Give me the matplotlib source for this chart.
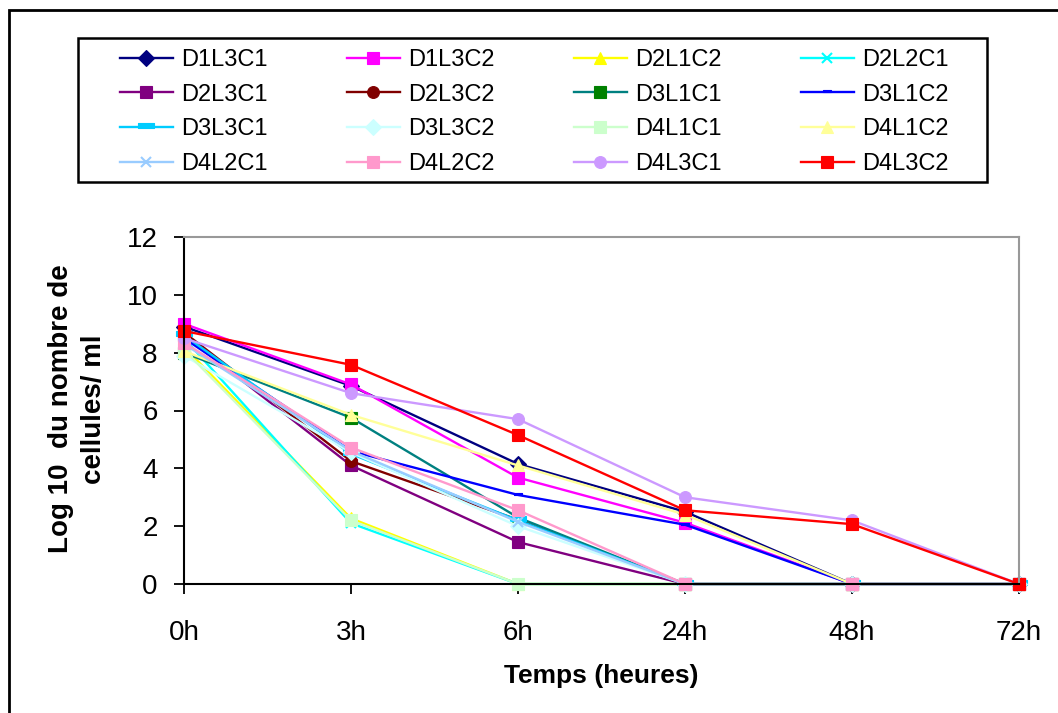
import matplotlib
matplotlib.use("Agg")
import matplotlib.pyplot as plt
from matplotlib.patches import Rectangle
from matplotlib.path import Path

plt.rcParams['font.family'] = ['Liberation Sans', 'DejaVu Sans']

# temps de prelevement
temps = ['0h', '3h', '6h', '24h', '48h', '72h']

# log10 du nombre de cellules/ml pour chaque essai
D1L3C1 = [8.9, 6.85, 4.15, 2.5, 0, 0]
D1L3C2 = [9.0, 6.9, 3.68, 2.12, 0, 0]
D2L1C2 = [8.2, 2.27, 0, 0, 0, 0]
D2L2C1 = [8.5, 2.1, 0, 0, 0, 0]
D2L3C1 = [8.6, 4.1, 1.45, 0, 0, 0]
D2L3C2 = [8.7, 4.25, 2.22, 0, 0, 0]
D3L1C1 = [8.0, 5.75, 2.3, 0, 0, 0]
D3L1C2 = [8.5, 4.6, 3.08, 2.05, 0, 0]
D3L3C1 = [8.6, 4.5, 2.2, 0, 0, 0]
D3L3C2 = [7.9, 4.55, 2.0, 0, 0, 0]
D4L1C1 = [8.1, 2.2, 0, 0, 0, 0]
D4L1C2 = [8.05, 5.85, 4.1, 2.4, 0, 0]
D4L2C1 = [8.3, 4.6, 2.15, 0, 0, 0]
D4L2C2 = [8.35, 4.72, 2.55, 0, 0, 0]
D4L3C1 = [8.5, 6.6, 5.7, 3.0, 2.2, 0]
D4L3C2 = [8.75, 7.58, 5.15, 2.55, 2.07, 0]

noms = ['D1L3C1', 'D1L3C2', 'D2L1C2', 'D2L2C1', 'D2L3C1', 'D2L3C2',
        'D3L1C1', 'D3L1C2', 'D3L3C1', 'D3L3C2', 'D4L1C1', 'D4L1C2',
        'D4L2C1', 'D4L2C2', 'D4L3C1', 'D4L3C2']
series = [D1L3C1, D1L3C2, D2L1C2, D2L2C1, D2L3C1, D2L3C2,
          D3L1C1, D3L1C2, D3L3C1, D3L3C2, D4L1C1, D4L1C2,
          D4L2C1, D4L2C2, D4L3C1, D4L3C2]

# petits tirets comme marqueurs (style excel)
tiret = Path([(-1, -0.1), (1, -0.1), (1, 0.5), (-1, 0.5), (-1, -0.1)],
             [Path.MOVETO, Path.LINETO, Path.LINETO, Path.LINETO, Path.CLOSEPOLY])

# couleur ligne, couleur marqueur, marqueur, taille
styles = [
    ('#000080', '#000080', 'D', 8),
    ('#FF00FF', '#FF00FF', 's', 8),
    ('#FFFF00', '#FFFF00', '^', 9),
    ('#00FFFF', '#00FFFF', 'x', 7),
    ('#800080', '#800080', 's', 8),
    ('#800000', '#800000', 'o', 8.5),
    ('#008080', '#008000', 's', 8),
    ('#0000FF', '#0000FF', tiret, 6),
    ('#00CCFF', '#00CCFF', tiret, 11),
    ('#CCFFFF', '#CCFFFF', 'D', 8),
    ('#CCFFCC', '#CCFFCC', 's', 8),
    ('#FFFF99', '#FFFF99', '^', 9),
    ('#99CCFF', '#99CCFF', 'x', 7),
    ('#FF99CC', '#FF99CC', 's', 8),
    ('#CC99FF', '#CC99FF', 'o', 8.5),
    ('#FF0000', '#FF0000', 's', 8),
]

fig = plt.figure(figsize=(10.58, 7.13), dpi=100)
ax = fig.add_axes([184 / 1058, 1 - 584 / 713, 835 / 1058, 347 / 713])

x = list(range(len(temps)))
lignes = []
for nom, val, (lc, mc, m, ms) in zip(noms, series, styles):
    l, = ax.plot(x, val, color=lc, lw=1.7, marker=m, ms=ms,
                 markerfacecolor=mc, markeredgecolor=mc,
                 markeredgewidth=1.5 if m == 'x' else 0.8,
                 clip_on=False, label=nom)
    lignes.append(l)

ax.set_xlim(0, 5)
ax.set_ylim(0, 12)
ax.set_xticks(x)
ax.set_xticklabels(temps)
ax.set_yticks(range(0, 13, 2))
ax.tick_params(axis='both', labelsize=20, direction='out', length=7, width=1.3)
ax.tick_params(axis='x', pad=19)
ax.tick_params(axis='y', pad=12)
for s in ['left', 'bottom']:
    ax.spines[s].set_color('black')
    ax.spines[s].set_linewidth(1.5)
for s in ['top', 'right']:
    ax.spines[s].set_color('#999999')
    ax.spines[s].set_linewidth(1.5)

fig.text(601 / 1058, 1 - 676 / 713, 'Temps (heures)', fontsize=19,
         fontweight='bold', ha='center', va='center')
fig.text(77 / 1058, 1 - 409 / 713, 'Log 10  du nombre de\ncellules/ ml',
         fontsize=20, fontweight='bold', ha='center', va='center',
         rotation=90, multialignment='center', linespacing=1.35)

# legende en lignes (4 colonnes), remplie ligne par ligne
ordre = [c + 4 * r for c in range(4) for r in range(4)]
leg = fig.legend([lignes[i] for i in ordre], [noms[i] for i in ordre],
                 ncol=4, loc='center', bbox_to_anchor=(534 / 1058, 1 - 112 / 713),
                 frameon=False, fontsize=17, borderpad=0, handlelength=2.25,
                 handletextpad=0.35, columnspacing=3.35, labelspacing=0.53)

# cadre de la legende et cadre exterieur
fig.patches.append(Rectangle((78 / 1058, 1 - 182 / 713), 909 / 1058, 144 / 713,
                             transform=fig.transFigure, fill=False,
                             edgecolor='black', lw=1.8))
fig.patches.append(Rectangle((8.5 / 1058, -0.1), 1.2, 1.1 - 10 / 713,
                             transform=fig.transFigure, fill=False,
                             edgecolor='black', lw=2))

fig.savefig('out.png', dpi=100)
